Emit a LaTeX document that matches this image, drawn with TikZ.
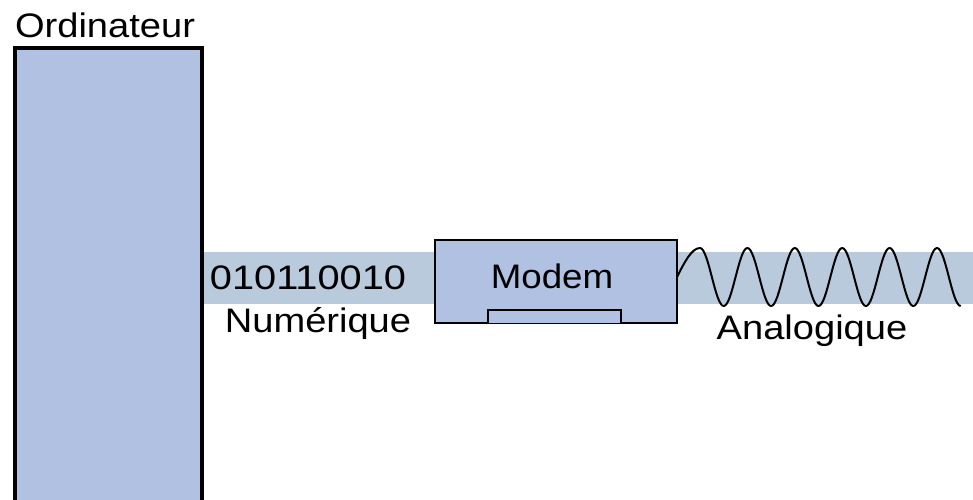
\documentclass[tikz,border=0pt]{standalone}
\usepackage{fontspec}
\setmainfont{Liberation Sans}
\definecolor{boxfill}{HTML}{B0C1E1}
\definecolor{bandfill}{HTML}{B9CADD}
\tikzset{
  unit/.style={draw=black, fill=boxfill},
  label/.style={inner sep=0pt, anchor=base, font=\fontsize{34}{34}\selectfont},
  wave/.style={draw=black, line width=2pt, line join=round}
}
\begin{document}
\begin{tikzpicture}[x=1pt, y=-1pt]
  \useasboundingbox (0,0) rectangle (973,499);
  % signal band between computer and line end
  \fill[bandfill] (202,252) rectangle (973,304);
  % computer
  \begin{scope}
    \clip (0,0) rectangle (973,499);
    \draw[unit, line width=4pt] (15,48) rectangle (202,520);
  \end{scope}
  \node[label] (ordi) at (105,37) {\scalebox{1.12}[1]{Ordinateur}};
  % digital side
  \node[label] (bits) at (308,289) {\scalebox{1.17}[1]{010110010}};
  \node[label] (num) at (318,332) {\scalebox{1.12}[1]{Numérique}};
  % modem
  \draw[unit, line width=2.5pt] (435,240) rectangle (677,323);
  \draw[unit, line width=2pt] (488,323) |- (621,310) -- (621,323);
  \node[label] (modem) at (552,288) {\scalebox{1.08}[1]{Modem}};
  % analog side
  \draw[wave] (677,277) sin (700,248)
    \foreach \k in {0,...,4} {
      cos ({700+47.4*\k+11.85},277) sin ({700+47.4*\k+23.7},306)
      cos ({700+47.4*\k+35.55},277) sin ({700+47.4*\k+47.4},248)
    }
    cos (948.85,277) sin (960.7,306);
  \node[label] (ana) at (812,339) {\scalebox{1.12}[1]{Analogique}};
\end{tikzpicture}
\end{document}
